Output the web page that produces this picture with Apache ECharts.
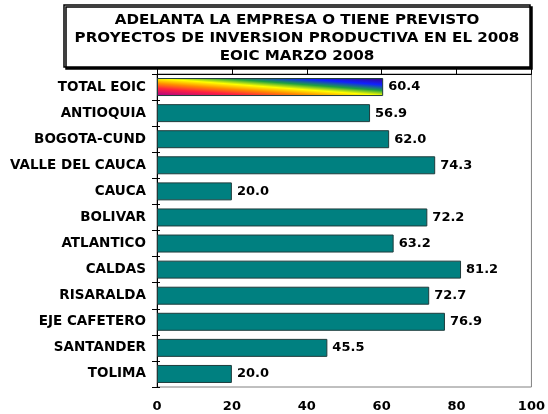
<!DOCTYPE html>
<html>
<head>
<meta charset="utf-8">
<script src="https://cdn.jsdelivr.net/npm/echarts@6/dist/echarts.min.js"></script>
<style>
  html, body { margin: 0; padding: 0; background: #fff; }
  #chart { width: 548px; height: 414px; }
</style>
</head>
<body>
<div id="chart"></div>
<script>
// categorias y valores (%)
const regiones = [
  'TOTAL EOIC', 'ANTIOQUIA', 'BOGOTA-CUND', 'VALLE DEL CAUCA', 'CAUCA', 'BOLIVAR',
  'ATLANTICO', 'CALDAS', 'RISARALDA', 'EJE CAFETERO', 'SANTANDER', 'TOLIMA'
];
const valores = [60.4, 56.9, 62.0, 74.3, 20.0, 72.2, 63.2, 81.2, 72.7, 76.9, 45.5, 20.0];
const ticksX = [0, 20, 40, 60, 80, 100];
const tituloLineas = [
  'ADELANTA LA EMPRESA O TIENE PREVISTO',
  'PROYECTOS DE INVERSION PRODUCTIVA EN EL 2008',
  'EOIC MARZO 2008'
];

const fuente = 'DejaVu Sans';

// barra del total con degradado arcoiris (isolineas paralelas a la diagonal)
const arcoiris = new echarts.graphic.LinearGradient(0.494, 1.49, 0.506, -0.49, [
  { offset: 0, color: '#a00090' },
  { offset: 0.22, color: '#ff2040' },
  { offset: 0.36, color: '#ff8c00' },
  { offset: 0.5, color: '#ffff00' },
  { offset: 0.64, color: '#20a040' },
  { offset: 0.8, color: '#1020ff' },
  { offset: 1, color: '#400080' }
]);

const datos = valores.map((v, i) => {
  if (i === 0) {
    return { value: v, itemStyle: { color: arcoiris } };
  }
  return v;
});

const chart = echarts.init(document.getElementById('chart'));
chart.setOption({
  animation: false,
  graphic: [
    {
      type: 'rect',
      shape: { x: 64, y: 5, width: 466, height: 62 },
      style: {
        fill: '#fff', stroke: '#000', lineWidth: 1.5,
        shadowColor: '#000', shadowOffsetX: 2, shadowOffsetY: 2, shadowBlur: 0
      },
      z: 10
    },
    {
      type: 'text',
      x: 297,
      y: 11,
      scaleX: 1.12,
      style: {
        text: tituloLineas.join('\n'),
        font: 'bold 13.5px "' + fuente + '"',
        lineHeight: 18,
        textAlign: 'center',
        fill: '#000'
      },
      z: 11
    }
  ],
  grid: {
    left: 157, right: 15, top: 74, bottom: 27,
    show: true, borderColor: '#808080', borderWidth: 1,
    containLabel: false
  },
  xAxis: [
    {
      type: 'value', min: 0, max: 100, interval: 20, position: 'bottom',
      axisLine: { show: false },
      axisTick: { show: false },
      splitLine: { show: false },
      axisLabel: {
        margin: 13, color: '#000', fontFamily: fuente, fontWeight: 'bold', fontSize: 13,
        formatter: (v) => ticksX.includes(v) ? String(v) : ''
      }
    },
    {
      type: 'value', min: 0, max: 100, interval: 20, position: 'top',
      axisLine: { show: true, lineStyle: { color: '#000', width: 1 } },
      axisTick: { show: true, inside: false, length: 5, lineStyle: { color: '#000' } },
      axisLabel: { show: false },
      splitLine: { show: false }
    }
  ],
  yAxis: [
    {
      type: 'category',
      data: regiones,
      inverse: true,
      axisLine: { show: true, lineStyle: { color: '#000', width: 1 } },
      axisTick: { show: true, length: 5, lineStyle: { color: '#000' } },
      axisLabel: {
        margin: 11, color: '#000', fontFamily: fuente, fontWeight: 'bold', fontSize: 13.5
      }
    },
    {
      // marcas cortas hacia dentro
      type: 'category',
      data: regiones,
      inverse: true,
      position: 'left',
      axisLine: { show: false },
      axisTick: { show: true, inside: true, length: 3, lineStyle: { color: '#000' } },
      axisLabel: { show: false }
    }
  ],
  series: [
    {
      type: 'bar',
      data: datos,
      barCategoryGap: '31%',
      itemStyle: { color: '#008080', borderColor: '#1e3c3c', borderWidth: 1 },
      label: {
        show: true, position: 'right', distance: 5,
        color: '#000', fontFamily: fuente, fontWeight: 'bold', fontSize: 13,
        formatter: (p) => p.value.toFixed(1)
      }
    }
  ]
});
</script>
</body>
</html>
